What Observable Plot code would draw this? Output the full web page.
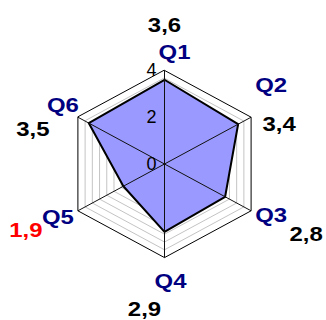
<!DOCTYPE html>
<html>
<head>
<meta charset="utf-8">
<script src="https://cdn.jsdelivr.net/npm/d3@7"></script>
<script src="https://cdn.jsdelivr.net/npm/@observablehq/plot@0.6"></script>
<style>
  html, body { margin: 0; padding: 0; background: #fff; }
  #chart { width: 326px; height: 320px; }
</style>
</head>
<body>
<div id="chart"></div>
<script>
// ---- data ----
const categories = ["Q1", "Q2", "Q3", "Q4", "Q5", "Q6"];
const values = [3.6, 3.4, 2.8, 2.9, 1.9, 3.5];
const valueLabels = ["3,6", "3,4", "2,8", "2,9", "1,9", "3,5"];
const tickValues = [0, 2, 4];
const tickLabels = ["0", "2", "4"];
const axisMax = 4;
const gridStep = 1 / 3;

// ---- layout (pixel nudges of labels from the axis ends) ----
const catNudge = [[10, -18], [20, -32], [20, 4], [6, 24], [-20, 6], [-15, -12]];
const valNudge = [[0, -45], [28, 7], [55, 23], [-20, 52], [-52, 19], [-45, 12]];

const n = categories.length;
const ang = i => (i * 2 * Math.PI) / n;
const px = (i, r) => r * Math.sin(ang(i));
const py = (i, r) => r * Math.cos(ang(i));

const rings = [];
for (let k = 1; k * gridStep < axisMax - 1e-9; k++) rings.push(k * gridStep);
const ringPts = (r) => categories.map((c, i) => ({ r, x: px(i, r), y: py(i, r) }));
const grayRingData = rings.flatMap(ringPts);
const outerRingData = ringPts(axisMax);
const polyData = values.map((v, i) => ({ x: px(i, v), y: py(i, v) }));
const spokes = categories.map((c, i) => ({ x2: px(i, axisMax), y2: py(i, axisMax) }));
const minIdx = values.indexOf(Math.min(...values));

const navy = "#000080";
const labelFont = "Liberation Sans, Arial, Helvetica, sans-serif";

const marks = [
  Plot.line(grayRingData, { x: "x", y: "y", z: "r", curve: "linear-closed", stroke: "#c4c4c4", strokeWidth: 1 }),
  Plot.line(outerRingData, { x: "x", y: "y", curve: "linear-closed", stroke: "#000", strokeWidth: 1 }),
  Plot.line(polyData, { x: "x", y: "y", curve: "linear-closed", fill: "#9999ff", stroke: "#000", strokeWidth: 2 }),
  Plot.link(spokes, { x1: () => 0, y1: () => 0, x2: "x2", y2: "y2", stroke: "#111", strokeWidth: 1 }),
  Plot.text(tickValues, {
    x: () => 0, y: d => d, text: (d, i) => tickLabels[i],
    textAnchor: "end", lineAnchor: "middle", dx: -8, fontSize: 18, fill: "#000"
  })
];
categories.forEach((c, i) => {
  marks.push(Plot.text([i], {
    x: j => px(j, axisMax), y: j => py(j, axisMax), text: j => categories[j],
    dx: catNudge[i][0], dy: catNudge[i][1], textAnchor: "middle", lineAnchor: "middle",
    fontSize: 21, fontWeight: "bold", fill: navy
  }));
  marks.push(Plot.text([i], {
    x: j => px(j, axisMax), y: j => py(j, axisMax), text: j => valueLabels[j],
    dx: valNudge[i][0], dy: valNudge[i][1], textAnchor: "middle", lineAnchor: "middle",
    fontSize: 21, fontWeight: "bold", fill: i === minIdx ? "#ff0000" : "#000"
  }));
});

const W = 326, H = 320, cx = 164, cy = 163.5, kx = 25, ky = 23.4;
const svg = Plot.plot({
  width: W, height: H, margin: 0,
  style: { fontFamily: labelFont, background: "#fff", overflow: "visible" },
  x: { domain: [-cx / kx, (W - cx) / kx], range: [0, W], axis: null },
  y: { domain: [-(H - cy) / ky, cy / ky], range: [H, 0], axis: null },
  marks
});

// widen the bold lettering horizontally like the reference (skip the tick labels group)
svg.querySelectorAll('g[aria-label="text"]').forEach((g, gi) => {
  if (gi === 0) return;
  g.querySelectorAll("text").forEach(t => {
    const tr = t.getAttribute("transform");
    if (tr) {
      t.setAttribute("transform", tr + " scale(1.14,1)");
    } else {
      const x = t.getAttribute("x") || 0, y = t.getAttribute("y") || 0;
      t.removeAttribute("x"); t.removeAttribute("y");
      t.setAttribute("transform", `translate(${x},${y}) scale(1.14,1)`);
    }
  });
});

document.getElementById("chart").appendChild(svg);
</script>
</body>
</html>
